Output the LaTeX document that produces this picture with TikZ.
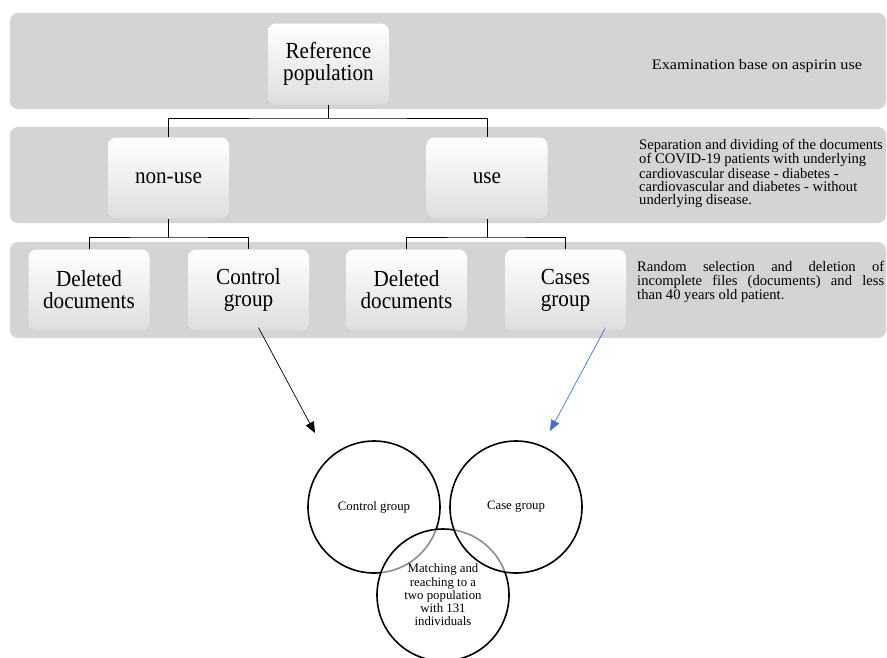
\documentclass[tikz,border=0pt]{standalone}
\usepackage{fontspec}
\setmainfont{Liberation Serif}
\newfontfamily\boxfont[FakeStretch=0.92]{Liberation Serif}
\newfontfamily\sidefont[FakeStretch=1.12]{Liberation Serif}
\usetikzlibrary{arrows.meta}
\definecolor{bandgray}{RGB}{212,212,214}
\definecolor{arrowblue}{RGB}{68,114,196}
\begin{document}
\begin{tikzpicture}[x=1pt,y=-1pt,
  band/.style={fill=bandgray, rounded corners=8pt},
  box/.style={rounded corners=8pt, top color=white, bottom color=black!13, minimum width=121pt, minimum height=81pt, inner sep=0pt, align=center, font=\boxfont\fontsize{23}{22}\selectfont},
  side/.style={inner sep=0pt, font=\fontsize{14.6}{13.2}\selectfont},
  link/.style={draw=black, line width=0.8pt},
  circ/.style={circle, draw=black, line width=1.6pt, minimum size=132pt, inner sep=0pt, align=center, font=\fontsize{12.8}{13.3}\selectfont, text opacity=1},
  tip/.style={-{Triangle[length=11pt,width=9pt]}, line width=0.7pt}
]
\useasboundingbox (0,0) rectangle (887,657);
% bands
\path[band] (10,13) rectangle (886,109);
\path[band] (10,127) rectangle (886,223);
\path[band] (10,242) rectangle (886,338);
% boxes
\node[box] (ref) at (328.5,64) {Reference\\population};
\node[box, yshift=-1.5pt] (nonuse) at (168.5,176.5) {non-use};
\node[box, yshift=-1.5pt] (use) at (487,176.5) {use};
\node[box] (del1) at (89,290) {Deleted\\documents};
\node[box] (ctrl) at (248.5,290) {Control\\group};
\node[box] (del2) at (406.5,290) {Deleted\\documents};
\node[box] (cases) at (565.5,290) {Cases\\group};
% side texts
\node[side, font=\sidefont\fontsize{14.5}{13.6}\selectfont, anchor=center] (t1) at (757,66) {Examination base on aspirin use};
\node[side, anchor=north west, align=left] (t2) at (639,139) {Separation and dividing of the documents\\of COVID-19 patients with underlying\\cardiovascular disease - diabetes -\\cardiovascular and diabetes - without\\underlying disease.};
\node[side, anchor=north west, text width=247pt, align=justify, font=\fontsize{14.6}{13.8}\selectfont] (t3) at (637,261) {Random selection and deletion of\linebreak incomplete files (documents) and less\linebreak than 40 years old patient.};
% tree connectors
\draw[link] (ref.south) -- (ref.south |- 0,118) coordinate (j1);
\draw[link] (nonuse.north) |- (j1) -| (use.north);
\draw[link] (nonuse.south) -- (nonuse.south |- 0,237) coordinate (j2);
\draw[link] (del1.north) |- (j2) -| (ctrl.north);
\draw[link] (use.south) -- (use.south |- 0,237) coordinate (j3);
\draw[link] (del2.north) |- (j3) -| (cases.north);
% venn circles
\node[circ] (cc) at (374,507) {Control group};
\node[circ, fill=white, fill opacity=0.55] (mc) at (443,595) {Matching and\\reaching to a\\two population\\with 131\\individuals};
\node[circ, fill=white, fill opacity=0.55] (kc) at (516,507) {Case group};
% arrows
\coordinate (ta) at (315,433);
\coordinate (tb) at (550,431);
\draw[tip, black] ([xshift=10pt,yshift=3pt]ctrl.south) -- (ta);
\draw[tip, arrowblue] ([xshift=40pt,yshift=3pt]cases.south) -- (tb);
\end{tikzpicture}
\end{document}
